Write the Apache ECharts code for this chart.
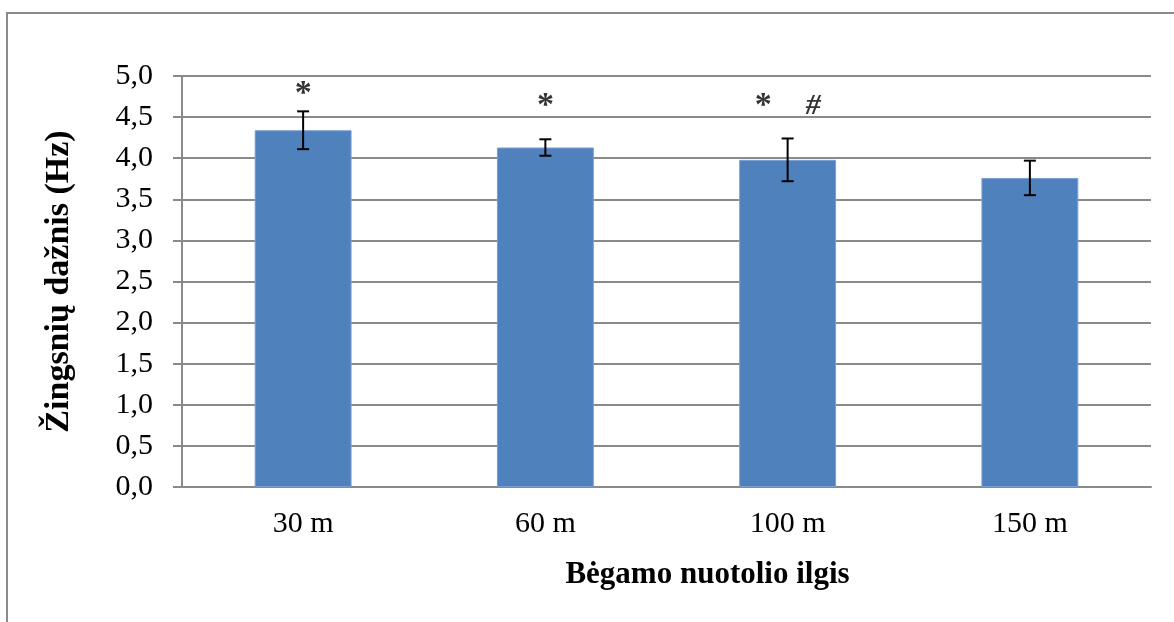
<!DOCTYPE html>
<html>
<head>
<meta charset="utf-8">
<script src="https://cdn.jsdelivr.net/npm/echarts@6/dist/echarts.min.js"></script>
<style>
  html, body { margin: 0; padding: 0; background: #fff; }
  #chart { width: 1174px; height: 622px; }
</style>
</head>
<body>
<div id="chart"></div>
<script>
const categories = ['30 m', '60 m', '100 m', '150 m'];
const means = [4.34, 4.13, 3.98, 3.76];
const errors = [0.23, 0.10, 0.26, 0.21];
const markTexts = ['*', '*', '*    {h|#}', ''];
const markLevels = [4.78, 4.63, 4.63, null];
const yTicks = ['0,0', '0,5', '1,0', '1,5', '2,0', '2,5', '3,0', '3,5', '4,0', '4,5', '5,0'];

const serif = '"Liberation Serif", "Times New Roman", serif';
const gray = '#8a8a8a';

const chart = echarts.init(document.getElementById('chart'));

const option = {
  animation: false,
  textStyle: { fontFamily: serif },
  grid: { left: 182, right: 23, top: 76, bottom: 135, containLabel: false },
  graphic: [{
    type: 'rect',
    shape: { x: 7, y: 13, width: 1200, height: 700 },
    style: { fill: 'none', stroke: gray, lineWidth: 2 },
    silent: true
  }],
  xAxis: {
    type: 'category',
    data: categories,
    name: 'Bėgamo nuotolio ilgis',
    nameLocation: 'middle',
    nameGap: 72,
    nameTextStyle: { fontFamily: serif, fontSize: 31, fontWeight: 'bold', color: '#000', padding: [0, 0, 0, 82] },
    axisLine: { lineStyle: { color: gray, width: 2 } },
    axisTick: { show: false },
    axisLabel: { fontFamily: serif, fontSize: 30, color: '#000', margin: 22 }
  },
  yAxis: {
    type: 'value',
    min: 0,
    max: 5,
    interval: 0.5,
    name: 'Žingsnių dažnis (Hz)',
    nameLocation: 'middle',
    nameGap: 106,
    nameRotate: 90,
    nameTextStyle: { fontFamily: serif, fontSize: 34, fontWeight: 'bold', color: '#000' },
    axisLine: { show: true, lineStyle: { color: gray, width: 2 } },
    axisTick: { show: true, length: 9, lineStyle: { color: gray, width: 2 } },
    splitLine: { lineStyle: { color: gray, width: 2 } },
    axisLabel: {
      fontFamily: serif, fontSize: 30, color: '#000', margin: 29,
      formatter: (v) => yTicks[Math.round(v / 0.5)]
    }
  },
  series: [
    {
      type: 'bar',
      data: means,
      barWidth: '40%',
      itemStyle: { color: '#4f81bd', borderColor: '#7a9fd0', borderWidth: 1 },
      z: 2
    },
    {
      type: 'custom',
      data: means.map((m, i) => [i, m - errors[i], m + errors[i]]),
      renderItem: (params, api) => {
        const lo = api.coord([api.value(0), api.value(1)]);
        const hi = api.coord([api.value(0), api.value(2)]);
        const cap = 6;
        const style = { stroke: '#000', lineWidth: 2 };
        return {
          type: 'group',
          children: [
            { type: 'line', shape: { x1: lo[0], y1: lo[1], x2: hi[0], y2: hi[1] }, style },
            { type: 'line', shape: { x1: lo[0] - cap, y1: lo[1], x2: lo[0] + cap, y2: lo[1] }, style },
            { type: 'line', shape: { x1: hi[0] - cap, y1: hi[1], x2: hi[0] + cap, y2: hi[1] }, style }
          ]
        };
      },
      z: 5
    },
    {
      type: 'scatter',
      data: markLevels.map((v, i) => (v === null ? null : [i, v])),
      symbolSize: 0,
      label: {
        show: true,
        position: 'inside',
        formatter: (p) => markTexts[p.dataIndex],
        fontFamily: serif,
        fontSize: 34,
        fontWeight: 'bold',
        color: '#000',
        rich: {
          h: { fontFamily: serif, fontSize: 30, fontWeight: 'bold', fontStyle: 'italic', color: '#000' }
        }
      },
      z: 6
    }
  ]
};

chart.setOption(option);
</script>
</body>
</html>
